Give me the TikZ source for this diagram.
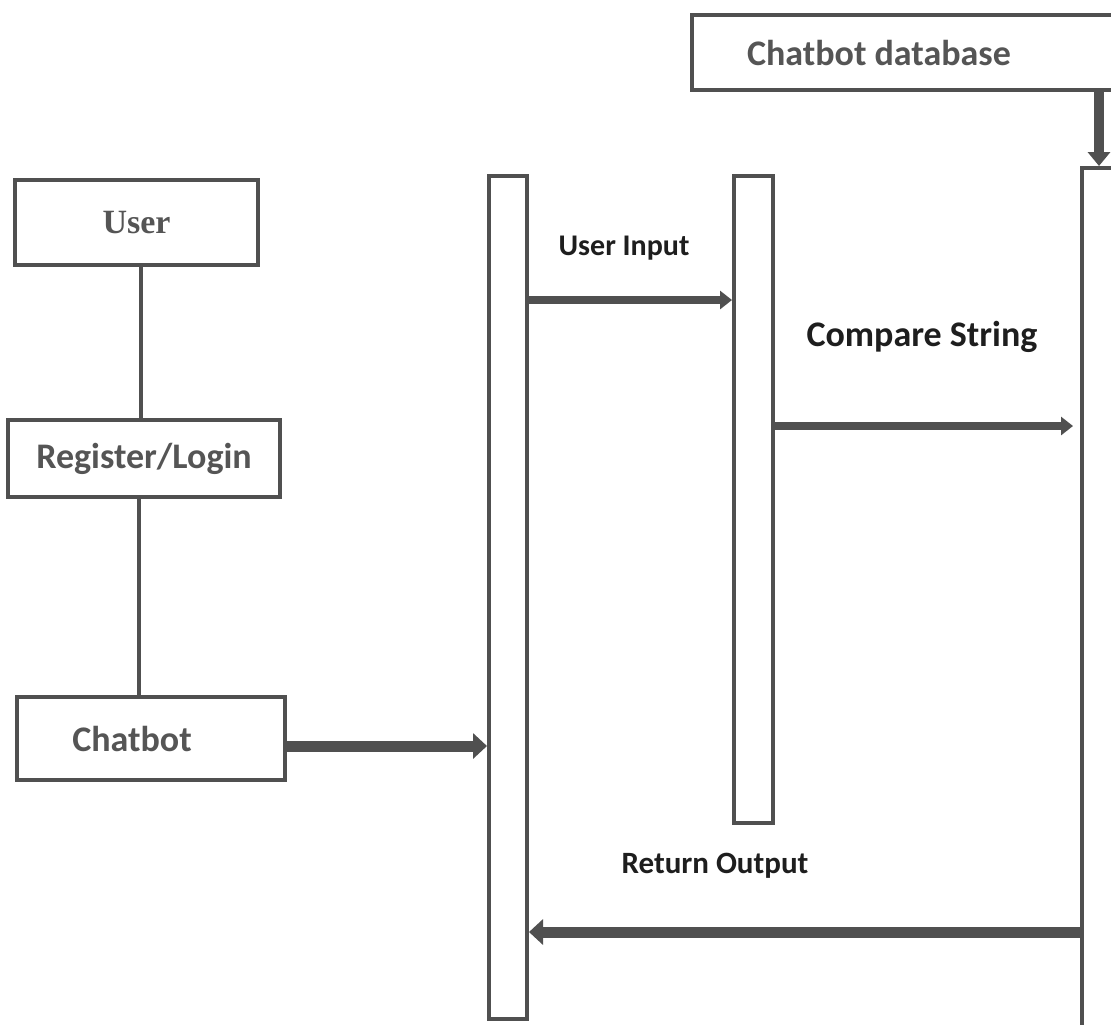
\documentclass[tikz,border=0pt]{standalone}
\usepackage{fontspec}
\setmainfont{Carlito}
\newfontfamily\serifbold{Liberation Serif}
\usetikzlibrary{arrows.meta,positioning,calc}
\definecolor{edge}{HTML}{505050}
\definecolor{boxtext}{HTML}{555555}
\definecolor{msgtext}{HTML}{1E1E1E}
\tikzset{
  box/.style={draw=edge, line width=2pt, fill=white, inner sep=0pt,
    font=\bfseries\fontsize{18}{20}\selectfont, text=boxtext},
  bar/.style={draw=edge, line width=2pt, fill=white, inner sep=0pt},
  link/.style={draw=edge, line width=1.8pt},
  msg/.style={draw=edge, -{Triangle[length=6pt,width=9pt]}, line width=4pt},
  bigmsg/.style={draw=edge, -{Triangle[length=7pt,width=12.5pt]}, line width=5.5pt},
  msglabel/.style={font=\bfseries\fontsize{18}{20}\selectfont, text=msgtext, inner sep=0pt}
}
\begin{document}
\begin{tikzpicture}[x=0.5pt,y=-0.5pt]
  \useasboundingbox (0,0) rectangle (1111,1024);
  \clip (0,0) rectangle (1111,1024);
  \fill[white] (0,0) rectangle (1111,1024);

  % left column: actor and its steps
  \node[box, minimum width=243*0.5pt, minimum height=85*0.5pt, font=\serifbold\bfseries\fontsize{17}{20}\selectfont]
    (user) at (136.5,222.5) {User};
  \node[box, minimum width=272*0.5pt, minimum height=77*0.5pt] (reg) at (144,458.5) {Register/Login};
  \node[box, minimum width=268*0.5pt, minimum height=83*0.5pt] (chat) at (151,738.5)
    {Chatbot\hspace*{19pt}};

  % database box running off the right side
  \node[box, minimum height=75*0.5pt, anchor=west] (db) at (690,52.5)
    {\hspace*{27.5pt}Chatbot database\hspace*{60pt}};

  % activation bars
  \node[bar, minimum width=38*0.5pt, minimum height=843*0.5pt] (b1) at (508,597.5) {};
  \node[bar, minimum width=39*0.5pt, minimum height=647*0.5pt] (b2) at (753.5,499.5) {};
  \node[bar, minimum width=43*0.5pt, minimum height=862*0.5pt] (b3) at (1103.5,599) {};

  % connections between the left boxes
  \draw[link] ([xshift=2.25pt]user.south) -- ([xshift=2.25pt]user.south |- reg.north);
  \draw[link] ([xshift=-2.5pt]reg.south) -- ([xshift=-2.5pt]reg.south |- chat.north);

  % messages
  \draw[bigmsg] (chat.east |- 0,746) -- (b1.west |- 0,746);
  \draw[msg] (b1.east |- 0,300) -- (b2.west |- 0,300);
  \draw[msg] (b2.east |- 0,426) -- ([xshift=-3.5pt]b3.west |- 0,426);
  \draw[bigmsg] (b3.west |- 0,932) -- (b1.east |- 0,932);
  \draw[draw=edge, line width=5pt, -{Triangle[length=7pt,width=11pt]}]
    (1099,0 |- db.south) -- (1099,0 |- b3.north);

  % message labels
  \node[msglabel, font=\bfseries\fontsize{15}{18}\selectfont] (lin) at (624,248) {User Input};
  \node[msglabel] (lcmp) at (922,337) {Compare String};
  \node[msglabel, font=\bfseries\fontsize{15.5}{18}\selectfont] (lout) at (715,866) {Return Output};
\end{tikzpicture}
\end{document}
